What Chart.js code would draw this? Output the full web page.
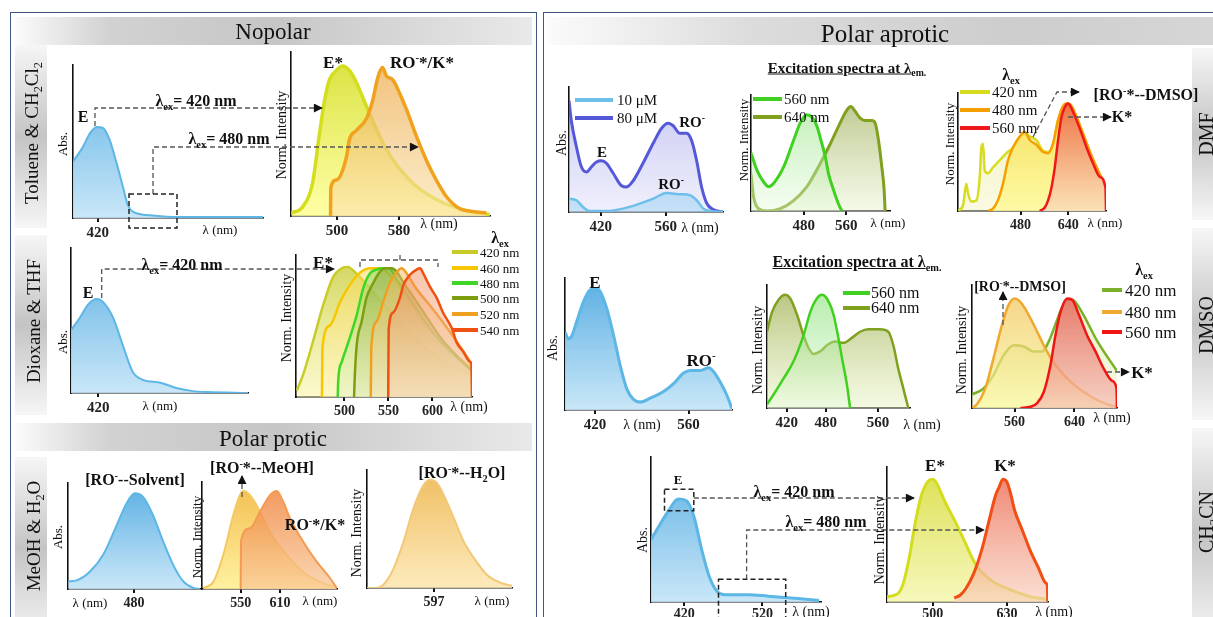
<!DOCTYPE html>
<html><head><meta charset="utf-8">
<script src="https://cdn.jsdelivr.net/npm/chart.js@4.4.1/dist/chart.umd.min.js"></script>
<style>
body{margin:0;background:#fff;}
#stage{position:relative;width:1213px;height:617px;overflow:hidden;background:#fff;font-family:'Liberation Serif','Times New Roman',serif;color:#111;}
.t{position:absolute;white-space:nowrap;line-height:1;transform:translate(-50%,-50%);}
.r{transform:translate(-50%,-50%) rotate(-90deg);}
.l{transform:translate(0,-50%);}
sub{font-size:0.65em;vertical-align:-0.35em;line-height:0;}
sup{font-size:0.65em;vertical-align:0.55em;line-height:0;}
canvas{position:absolute;}
svg{position:absolute;left:0;top:0;}
</style></head>
<body><div id="stage"></div>
<script>
// ---------------- DATA ----------------
// Nonpolar: Toluene & CH2Cl2
const tolAbsNm  = [385,399,409,419,427.5,437,447,456,463,470,494,518,565,655];
const tolAbsVal = [0.62,0.78,0.93,1.0,0.99,0.86,0.60,0.34,0.14,0.07,0.03,0.015,0.01,0.01];
const tolAbsTicks = [420];
const tolEmENm  = [441,455.5,468.4,477.4,483.9,490.3,499.3,507,516,525,538,564,593.5,628,671,697];
const tolEmEVal = [0.02,0.06,0.22,0.55,0.77,0.91,0.97,1.0,0.97,0.89,0.73,0.44,0.24,0.11,0.03,0.01];
const tolEmKNm  = [491.6,492,499.3,512,516,525,538,546,551,555,558.7,564,571.6,580.6,589.6,602.5,615.4,628,641,658,674.8,692.8];
const tolEmKVal = [0,0.19,0.24,0.39,0.51,0.57,0.65,0.77,0.89,0.96,0.99,0.93,0.91,0.82,0.71,0.53,0.37,0.24,0.13,0.05,0.03,0.02];
const tolEmTicks = [500,580];
// Dioxane & THF
const dioxAbsNm  = [380,393,405,418,427,442,456,471,486,511,536,559,581,640];
const dioxAbsVal = [0.67,0.80,0.94,1.0,0.97,0.80,0.51,0.22,0.14,0.11,0.05,0.02,0.01,0];
const dioxAbsTicks = [420];
const dioxEx = ['420 nm','460 nm','480 nm','500 nm','520 nm','540 nm'];
const dioxEm420Nm = [446,453,464,476,487,497,504,512,518,540,560,580,600,620,645];
const dioxEm420Val= [0.05,0.17,0.42,0.71,0.92,0.99,1.0,0.96,0.92,0.75,0.6,0.45,0.33,0.25,0.17];
const dioxEm460Nm = [474.5,475,483.6,495,506,515,523,532.5,540,550,570,590,610,630,645];
const dioxEm460Val= [0,0.38,0.55,0.73,0.86,0.94,0.98,0.99,0.99,0.95,0.78,0.58,0.42,0.3,0.22];
const dioxEm480Nm = [492.4,493,497,504.4,514,521.5,529,536.7,544,550,560,580,600,620,645];
const dioxEm480Val= [0,0.13,0.27,0.42,0.63,0.84,0.95,0.98,0.99,0.99,0.9,0.7,0.5,0.35,0.2];
const dioxEm500Nm = [511,511.5,514,519.6,525,533,540,546,553.7,570,590,610,630,645];
const dioxEm500Val= [0,0.11,0.40,0.58,0.76,0.88,0.96,0.99,0.99,0.85,0.65,0.45,0.3,0.2];
const dioxEm520Nm = [530,530.5,536.7,544,551.8,559.4,565,570.8,580,600,620,645];
const dioxEm520Val= [0,0.38,0.58,0.73,0.88,0.96,0.99,0.95,0.85,0.68,0.5,0.25];
const dioxEm540Nm = [549.8,550.3,555.5,563,567,574.5,582,586,589.6,597,605,612,622,627.5,635,642.7,644.3,645];
const dioxEm540Val= [0,0.52,0.65,0.76,0.86,0.94,0.98,0.99,0.95,0.85,0.76,0.65,0.53,0.42,0.35,0.27,0.25,0];
const dioxEmTicks = [500,550,600];
// Polar protic: MeOH & H2O
const meohAbsNm  = [380.5,393,413,433.5,454,469,481.5,494,509,524,539.5,554.7,570,580];
const meohAbsVal = [0.08,0.09,0.18,0.36,0.67,0.90,1.0,0.96,0.77,0.50,0.25,0.08,0.01,0];
const meohAbsTicks = [480];
const meohEm1Nm  = [493,508,523.5,539,549,554,564,579.6,595,620,650,680,696];
const meohEm1Val = [0.01,0.07,0.35,0.76,0.96,1.0,0.96,0.79,0.58,0.35,0.15,0.05,0.02];
const meohEm2Nm  = [550,550.5,564,579.6,595,605,615,625.4,645.7,666,686.5,696.7];
const meohEm2Val = [0,0.49,0.62,0.79,0.96,1.0,0.89,0.72,0.48,0.28,0.11,0.01];
const meohEmTicks = [550,610];
const h2oEmNm  = [500,514.5,533.8,553,567.5,582,591.7,601.4,611,625.5,640,654.5,674,693,710];
const h2oEmVal = [0,0,0.12,0.43,0.74,0.95,1.0,0.97,0.86,0.65,0.43,0.28,0.12,0.05,0.02];
const h2oEmTicks = [597];
// Polar aprotic: DMF
const dmfConc = ['10 μM','80 μM'];
const dmfAbs80Nm  = [352,357,368,378.7,389.5,400,411,422,432.5,447,465,475.6,490,511,533,551,565,576,590,605,615.7,626.4,637,648,662,683.7];
const dmfAbs80Val = [0.89,0.73,0.52,0.36,0.32,0.36,0.40,0.41,0.39,0.31,0.21,0.20,0.25,0.39,0.55,0.67,0.71,0.69,0.63,0.63,0.57,0.41,0.20,0.07,0.02,0];
const dmfAbs10Nm  = [352,368,382,396.6,432.5,468,504,533,561.7,590,612,626.4,640.6,655,683];
const dmfAbs10Val = [0.107,0.094,0.04,0.008,0.008,0.027,0.067,0.107,0.152,0.142,0.134,0.094,0.027,0.008,0];
const dmfAbsTicks = [420,560];
const excEm = ['560 nm','640 nm'];
const dmfExc560Nm  = [381,392.3,404.8,414.2,423.6,442.3,461,473.5,486,495.4,504.8,514.1,520.4,526.6,536,545.3,551.6];
const dmfExc560Val = [0.50,0.35,0.25,0.21,0.24,0.38,0.61,0.76,0.83,0.81,0.73,0.58,0.47,0.32,0.18,0.06,0];
const dmfExc640Nm  = [381,385.9,395.3,411,436,461,486,511,530,548.4,561,568.5,576.5,586,595.3,607.8,614,620.4,626.6,631,632.8];
const dmfExc640Val = [0.32,0.12,0.02,0,0.02,0.09,0.21,0.41,0.58,0.76,0.87,0.90,0.86,0.80,0.78,0.78,0.76,0.61,0.38,0.18,0];
const dmfExcTicks = [480,560];
const apEx = ['420 nm','480 nm','560 nm'];
const dmfEm420Nm  = [270,287,298,303.6,315,332,343,348.6,354,360,371,387.6,410,432.7,455,477,494,511.7,533.5,555.7,572.5,589,606,623,634,651,680,720,767];
const dmfEm420Val = [0,0.05,0.23,0.15,0.08,0.09,0.29,0.54,0.57,0.34,0.32,0.37,0.43,0.49,0.54,0.63,0.66,0.63,0.60,0.51,0.50,0.57,0.77,0.88,0.91,0.89,0.72,0.45,0.2];
const dmfEm480Nm  = [371,387.6,404,421,438,455,477,494,511.7,533.5,555.7,572.5,589,606,623,634,651,680,720,767];
const dmfEm480Val = [0,0.02,0.09,0.23,0.43,0.54,0.63,0.67,0.60,0.56,0.50,0.49,0.57,0.77,0.89,0.91,0.89,0.72,0.46,0.2];
const dmfEm560Nm  = [544.6,561.4,572.5,584,595,606,617.7,628.9,640,651,668,684.7,701.5,724,746,765.5,767];
const dmfEm560Val = [0,0.03,0.09,0.20,0.37,0.60,0.80,0.88,0.91,0.87,0.77,0.66,0.54,0.40,0.29,0.19,0];
const dmfEmTicks = [480,640];
// DMSO
const dmsoAbsNm  = [375,380,385,392.5,402.5,412.5,420,427.5,437.5,447.5,457.5,467.5,477.5,487.5,502.5,522.5,537.5,552.5,562.5,577.5,590,597.5,607.5,617.5,625];
const dmsoAbsVal = [0.59,0.54,0.56,0.67,0.82,0.91,0.92,0.90,0.77,0.57,0.34,0.16,0.08,0.06,0.09,0.14,0.20,0.28,0.30,0.30,0.32,0.29,0.21,0.11,0.01];
const dmsoAbsTicks = [420,560];
const dmsoExc640Nm  = [389.6,397.3,407.4,417.6,425.3,435.6,445.7,453.3,461,471.3,481.5,494.2,507,519.8,532.6,545.3,563.2,575.9,583.6,591.2,598.9,606.6];
const dmsoExc640Val = [0.62,0.78,0.88,0.92,0.89,0.76,0.59,0.49,0.44,0.46,0.51,0.54,0.53,0.57,0.62,0.64,0.64,0.62,0.51,0.32,0.16,0];
const dmsoExc560Nm  = [389.6,399.8,415.1,430.4,445.7,456,466.2,473.9,481.5,491.7,498.5,504.6,512.3,517.2];
const dmsoExc560Val = [0.03,0.11,0.24,0.38,0.59,0.78,0.89,0.92,0.89,0.76,0.59,0.41,0.19,0];
const dmsoExcTicks = [420,480,560];
const dmsoEm420Nm  = [503,518.6,532,545.4,558.8,572.2,585.6,596.8,605.6,614.6,623.6,630.3,637,650,670,697];
const dmsoEm420Val = [0.11,0.16,0.27,0.43,0.51,0.50,0.46,0.46,0.54,0.68,0.82,0.88,0.88,0.78,0.55,0.3];
const dmsoEm480Nm  = [503,509.7,520.8,532,543.3,552.1,560.1,567.8,576.7,587.8,599,608,625.7,652.5,679.3,697];
const dmsoEm480Val = [0,0.03,0.16,0.41,0.68,0.84,0.89,0.86,0.78,0.65,0.51,0.41,0.27,0.13,0.04,0.01];
const dmsoEm560Nm  = [567.8,581.2,590.2,599,608,614.6,621.4,630.3,637,645.9,657.1,668.2,679.3,690.5,696.3,697];
const dmsoEm560Val = [0,0.01,0.04,0.13,0.35,0.59,0.78,0.89,0.88,0.76,0.59,0.46,0.32,0.22,0.16,0];
const dmsoEmTicks = [560,640];
// CH3CN
const mecnAbsNm  = [377.4,387.4,399.9,412.4,422.4,432.4,442.4,452.4,462.4,472.4,502.4,527.4,552.4,572.4,592.4];
const mecnAbsVal = [0.43,0.52,0.63,0.71,0.70,0.59,0.36,0.17,0.07,0.05,0.05,0.04,0.03,0.02,0.01];
const mecnAbsTicks = [420,520];
const mecnEmENm  = [420,438.5,448.7,459,469.2,479.5,493.2,500,507,520.6,537.7,554.7,575.2,602.5,636.7,670.9,701.7];
const mecnEmEVal = [0.04,0.06,0.14,0.33,0.58,0.78,0.90,0.91,0.88,0.75,0.61,0.46,0.28,0.16,0.09,0.04,0.02];
const mecnEmKNm  = [537.7,548,558.2,571.8,585.5,599.2,609.4,616.2,623,630,636.7,643.5,657.2,670.9,684.5,698.2,700.8,701.7];
const mecnEmKVal = [0.03,0.05,0.10,0.21,0.38,0.61,0.78,0.85,0.91,0.89,0.80,0.68,0.53,0.38,0.26,0.14,0.12,0];
const mecnEmTicks = [500,630];

// ---------------- HELPERS ----------------
const SERIF = "'Liberation Serif','Times New Roman',serif";
const stage = document.getElementById('stage');
function div(css, html){const d=document.createElement('div');d.style.cssText=css;if(html)d.innerHTML=html;stage.appendChild(d);return d;}
function grad(top,bot){return (c)=>{const a=c.chart.chartArea;if(!a)return top;const g=c.chart.ctx.createLinearGradient(0,a.top,0,a.bottom);g.addColorStop(0,top);g.addColorStop(1,bot);return g;};}
function ds(xs,ys,line,top,bot,w){return {data:xs.map((x,i)=>({x:x,y:ys[i]})),borderColor:line,borderWidth:w||2.5,fill:'origin',backgroundColor:grad(top,bot),pointRadius:0,cubicInterpolationMode:'monotone'};}
function chart(box,xr,ymax,ticks,sets,tickSize,tickPad){
  const pad=10,bh=30;
  const x0=Math.round(box[0]),x1=Math.round(box[1]),yt=Math.round(box[2]),yb=Math.round(box[3]);
  const W=x1-x0+2*pad,H=yb-yt+pad+bh;
  const cv=document.createElement('canvas');
  cv.width=W;cv.height=H;
  cv.style.left=(x0-pad)+'px';cv.style.top=(yt-pad)+'px';cv.style.width=W+'px';cv.style.height=H+'px';
  stage.appendChild(cv);
  sets.forEach((s,i)=>{s.order=sets.length-i;});
  new Chart(cv,{type:'line',data:{datasets:sets},options:{
    responsive:false,animation:false,devicePixelRatio:1,
    layout:{padding:{left:pad,right:pad,top:pad,bottom:0}},
    plugins:{legend:{display:false},tooltip:{enabled:false}},
    scales:{
      x:{type:'linear',min:xr[0],max:xr[1],
        afterFit:(s)=>{s.height=bh;},
        afterBuildTicks:(s)=>{s.ticks=ticks.map(v=>({value:v}));},
        grid:{display:true,drawOnChartArea:false,drawTicks:true,tickLength:4,color:'#111',lineWidth:2},
        border:{display:true,color:'#111',width:1.6},
        ticks:{autoSkip:false,maxRotation:0,padding:(tickPad===undefined?2:tickPad),color:'#222',font:{family:SERIF,size:tickSize||15,weight:'bold'},callback:(v)=>String(v)}},
      y:{min:0,max:ymax,afterFit:(s)=>{s.width=0;},grid:{display:false},border:{display:true,color:'#111',width:1.6},ticks:{display:false}}
    }}});
}
function T(x,y,html,size,bold,rot){div(`left:${x}px;top:${y}px;font-size:${size}px;font-weight:${bold?'bold':'normal'};`,html).className='t'+(rot?' r':'');}
function TL(x,y,html,size){div(`left:${x}px;top:${y}px;font-size:${size}px;`,html).className='t l';}

// ---------------- BACKGROUND ----------------
div('position:absolute;left:10px;top:12px;width:525px;height:640px;border:1.5px solid #3f5682;');
div('position:absolute;left:543px;top:12px;width:700px;height:640px;border:1.5px solid #3f5682;');
const hgL='linear-gradient(to right,#fbfbfb 0%,#d2d2d2 18%,#c6c6c6 50%,#e9e9e9 100%)';
div(`position:absolute;left:15px;top:17px;width:517px;height:28px;background:${hgL};`);
div(`position:absolute;left:15px;top:423px;width:517px;height:28px;background:${hgL};`);
div('position:absolute;left:548px;top:17px;width:665px;height:28px;background:linear-gradient(to right,#fbfbfb 0%,#dcdcdc 30%,#cdcdcd 70%,#d6d6d6 100%);');
const vg='linear-gradient(to bottom,#f6f6f6 0%,#c4c4c4 50%,#f6f6f6 100%)';
[[45,228],[235,415],[457,640]].forEach(b=>div(`position:absolute;left:15px;top:${b[0]}px;width:32px;height:${b[1]-b[0]}px;background:${vg};`));
[[48,220],[228,420],[428,640]].forEach(b=>div(`position:absolute;left:1192px;top:${b[0]}px;width:21px;height:${b[1]-b[0]}px;background:${vg};`));

// ---------------- CHARTS ----------------
const ABS=['#5cb6e6','rgba(80,170,225,0.95)','rgba(195,228,247,0.9)'];
chart([73,263,65,218],[385,655],1.68,tolAbsTicks,[ds(tolAbsNm,tolAbsVal,...ABS,2)]);
chart([291,490,52,216],[440.6,697.4],1.093,tolEmTicks,[
  ds(tolEmENm,tolEmEVal,'#d4de1e','rgba(212,222,40,0.9)','rgba(255,255,150,0.85)',3.5),
  ds(tolEmKNm,tolEmKVal,'#f0a21e','rgba(236,168,72,0.75)','rgba(250,226,172,0.65)',3.5)]);
chart([71,248,248,393],[380,640],1.543,dioxAbsTicks,[ds(dioxAbsNm,dioxAbsVal,...ABS,2)]);
chart([296,472,255,397],[445,645],1.092,dioxEmTicks,[
  ds(dioxEm420Nm,dioxEm420Val,'#c8cc28','rgba(200,205,60,0.85)','rgba(250,245,170,0.6)'),
  ds(dioxEm460Nm,dioxEm460Val,'#f7c600','rgba(250,215,80,0.55)','rgba(255,245,190,0.5)'),
  ds(dioxEm480Nm,dioxEm480Val,'#3fd626','rgba(120,210,80,0.5)','rgba(225,245,200,0.45)'),
  ds(dioxEm500Nm,dioxEm500Val,'#7e9e12','rgba(130,160,40,0.55)','rgba(220,230,180,0.45)'),
  ds(dioxEm520Nm,dioxEm520Val,'#f0a020','rgba(240,175,80,0.5)','rgba(250,225,180,0.45)'),
  ds(dioxEm540Nm,dioxEm540Val,'#f05012','rgba(240,130,80,0.5)','rgba(250,210,180,0.45)')],14);
chart([68,200,483,589],[380,580],1.108,meohAbsTicks,[ds(meohAbsNm,meohAbsVal,...ABS,2)],14);
chart([202,337,482,589],[491,697],1.092,meohEmTicks,[
  ds(meohEm1Nm,meohEm1Val,'#f5c860','rgba(242,185,70,0.95)','rgba(255,240,150,0.9)',2),
  ds(meohEm2Nm,meohEm2Val,'#f59a50','rgba(240,130,60,0.85)','rgba(248,200,150,0.75)',2)],14);
chart([367,512,470,588],[500,710],1.09,h2oEmTicks,[ds(h2oEmNm,h2oEmVal,'#f2c878','rgba(238,185,85,0.95)','rgba(252,230,175,0.85)',2)],14);
chart([569,723,87,212],[352,683],1,dmfAbsTicks,[
  ds(dmfAbs80Nm,dmfAbs80Val,'#5558d8','rgba(150,150,230,0.55)','rgba(225,225,250,0.5)',3),
  ds(dmfAbs10Nm,dmfAbs10Val,'#6ec0ea','rgba(110,190,235,0.7)','rgba(170,215,245,0.6)',2.5)]);
chart([751,890,95,211],[381,642],1,dmfExcTicks,[
  ds(dmfExc640Nm,dmfExc640Val,'#80a020','rgba(140,160,60,0.6)','rgba(235,245,210,0.5)',3),
  ds(dmfExc560Nm,dmfExc560Val,'#40d020','rgba(120,220,100,0.5)','rgba(230,250,220,0.4)',3)]);
chart([958,1106,93,211],[270,767],1,dmfEmTicks,[
  ds(dmfEm420Nm,dmfEm420Val,'#d8dc20','rgba(225,230,120,0.55)','rgba(245,245,200,0.5)',2.5),
  ds(dmfEm480Nm,dmfEm480Val,'#f5a000','rgba(245,215,60,0.8)','rgba(255,250,150,0.8)',2.5),
  ds(dmfEm560Nm,dmfEm560Val,'#f01818','rgba(235,80,50,0.85)','rgba(250,215,190,0.7)',2.5)],14);
chart([565,732,278,410],[375,625],1,dmsoAbsTicks,[ds(dmsoAbsNm,dmsoAbsVal,'#5cb6e6','rgba(80,170,225,0.95)','rgba(195,228,247,0.9)',3)]);
chart([767,910,285,408],[389.6,609.2],1,dmsoExcTicks,[
  ds(dmsoExc640Nm,dmsoExc640Val,'#80a020','rgba(140,160,50,0.65)','rgba(235,245,200,0.5)',2.5),
  ds(dmsoExc560Nm,dmsoExc560Val,'#40d020','rgba(110,220,90,0.55)','rgba(230,250,220,0.4)',2.5)]);
chart([972,1117,285,408],[503,697],1,dmsoEmTicks,[
  ds(dmsoEm420Nm,dmsoEm420Val,'#7ab02a','rgba(200,225,140,0.5)','rgba(240,245,200,0.5)',2.5),
  ds(dmsoEm480Nm,dmsoEm480Val,'#f0a830','rgba(240,190,80,0.7)','rgba(250,250,160,0.7)',2.5),
  ds(dmsoEm560Nm,dmsoEm560Val,'#f01515','rgba(230,80,70,0.8)','rgba(245,190,180,0.7)',2.5)],14);
chart([651,821,457,602],[377.5,595],1,mecnAbsTicks,[ds(mecnAbsNm,mecnAbsVal,'#5cb6e6','rgba(80,170,225,0.95)','rgba(195,228,247,0.9)',3)],14,0);
chart([887,1048,467,602],[420,702],1,mecnEmTicks,[
  ds(mecnEmENm,mecnEmEVal,'#d4dc1e','rgba(215,220,60,0.9)','rgba(245,245,170,0.8)',3),
  ds(mecnEmKNm,mecnEmKVal,'#f04e14','rgba(235,95,70,0.8)','rgba(248,205,185,0.65)',3)],14,0);

// ---------------- ANNOTATION LINES ----------------
const dash='fill="none" stroke="#555" stroke-width="1.3" stroke-dasharray="5 3"';
function pl(pts,arrow){return `<polyline points="${pts}" ${dash} ${arrow?'marker-end="url(#ah)"':''}/>`;}
function rc(x,y,w,h){return `<rect x="${x}" y="${y}" width="${w}" height="${h}" fill="none" stroke="#222" stroke-width="1.5" stroke-dasharray="5 3"/>`;}
function ln(x1,x2,y,c){return `<line x1="${x1}" y1="${y}" x2="${x2}" y2="${y}" stroke="${c}" stroke-width="4"/>`;}
let svg=`<svg width="1213" height="617" xmlns="http://www.w3.org/2000/svg"><defs><marker id="ah" viewBox="0 0 10 10" refX="9" refY="5" markerWidth="10" markerHeight="9" markerUnits="userSpaceOnUse" orient="auto"><path d="M0,0 L10,5 L0,10 z" fill="#111"/></marker></defs>`;
svg+=pl('95,126 95,108 322,108',1)+pl('153,194 153,147 418,147',1)+rc(129,194,48,34);
svg+=pl('101.7,298 101.7,269 334,269',1)+'<path d="M360,267 V260 H438 V267 M400,260 V252" '+dash+'/>';
svg+=pl('242,497 242,476',1);
svg+=pl('1033,137 1057,92 1079,92',1)+pl('1068,117 1111,117',1);
svg+=pl('1003,325 1003,292',1)+pl('1107,372 1129,372',1);
svg+=rc(664.5,489.3,29.3,21.4)+pl('693.8,498 914,498',1)+rc(718.5,579.3,67.2,50)+pl('746.6,579.3 746.6,530 984,530',1);
// legend swatches
const dioxCols=['#c8cc28','#f7c600','#3fd626','#7e9e12','#f0a020','#f05012'];
[252,268,283,298,314,330].forEach((y,i)=>{svg+=ln(452,478,y,dioxCols[i]);});
svg+=ln(575,613,100,'#6ec0ea')+ln(575,613,118,'#5558d8');
svg+=ln(753,782,99,'#40d020')+ln(753,782,117,'#80a020');
svg+=ln(960,990,92,'#d8dc20')+ln(960,990,110,'#f5a000')+ln(960,990,128,'#f01818');
svg+=ln(843,870,293,'#40d020')+ln(843,870,308,'#80a020');
svg+=ln(1102,1122,290,'#7ab02a')+ln(1102,1122,312,'#f0a830')+ln(1102,1122,332,'#f01515');
svg+='</svg>';
stage.insertAdjacentHTML('beforeend',svg);

// ---------------- TEXT ----------------
const L='λ<sub>ex</sub>';
const RO='RO<sup>-</sup>';
T(273,31,'Nopolar',23);
T(31,133,'Toluene &amp; CH<sub>2</sub>Cl<sub>2</sub>',19,false,true);
T(62,144,'Abs.',13,false,true);
T(83,117,'E',16,true);
T(196,101,L+'= 420 nm',16,true);
T(229,139,L+'= 480 nm',16,true);
T(220,229,'λ (nm)',13);
T(282,135,'Norm. Intensity',14,false,true);
T(333,62,'E*',17,true);
T(422,62,RO+'*/K*',17,true);
T(439,224,'λ (nm)',14);
T(33,321,'Dioxane &amp; THF',19,false,true);
T(62,342,'Abs.',13,false,true);
T(88,293,'E',16,true);
T(182,265,L+'= 420 nm',16,true);
T(160,405,'λ (nm)',13);
T(287,318,'Norm. Intensity',14,false,true);
T(323,262,'E*',17,true);
T(469,407,'λ (nm)',14);
T(500,238,L,16,true);
[252,268,283,298,314,330].forEach((y,i)=>TL(480,y,dioxEx[i],13));
T(273,438,'Polar protic',23);
T(33,536,'MeOH &amp; H<sub>2</sub>O',19,false,true);
T(135,480,'['+RO+'--Solvent]',16,true);
T(57,537,'Abs.',13,false,true);
T(90,602,'λ (nm)',13);
T(262,468,'['+RO+'*--MeOH]',16,true);
T(315,525,RO+'*/K*',16,true);
T(196,537,'Norm. Intensity',13,false,true);
T(320,600,'λ (nm)',13);
T(462,473,'['+RO+'*--H<sub>2</sub>O]',16,true);
T(357,533,'Norm. Intensity',14,false,true);
T(492,600,'λ (nm)',13);

T(885,33,'Polar aprotic',25);
TL(617,100,dmfConc[0],15);TL(617,118,dmfConc[1],15);
T(602,152,'E',15,true);T(692,122,RO,15,true);T(671,184,RO,15,true);
T(562,143,'Abs.',14,false,true);T(700,228,'λ (nm)',14);
T(847,68,'<u>Excitation spectra at λ<sub>em.</sub></u>',15,true);
TL(784,99,excEm[0],15);TL(784,117,excEm[1],15);
T(743,140,'Norm. Intensity',13,false,true);T(888,222,'λ (nm)',13);
T(1011,75,L,16,true);
[92,110,128].forEach((y,i)=>TL(992,y,apEx[i],15));
T(949,144,'Norm. Intensity',13,false,true);
T(1146,95,'['+RO+'*--DMSO]',16,true);
T(1122,117,'K*',16,true);
T(1105,222,'λ (nm)',13);
T(1206,134,'DMF',20,false,true);
T(595,282,'E',17,true);T(701,360,RO,17,true);
T(553,348,'Abs.',14,false,true);T(642,425,'λ (nm)',14);
T(857,262,'<u>Excitation spectra at λ<sub>em.</sub></u>',16,true);
TL(871,293,excEm[0],16);TL(871,308,excEm[1],16);
T(758,350,'Norm. Intensity',14,false,true);T(922,425,'λ (nm)',14);
T(1144,270,L,16,true);
[290,312,332].forEach((y,i)=>TL(1125,y,apEx[i],17));
T(1020,287,'['+RO+'*--DMSO]',14,true);
T(1142,372,'K*',17,true);
T(962,350,'Norm. Intensity',14,false,true);T(1112,418,'λ (nm)',14);
T(1206,325,'DMSO',20,false,true);
T(678,479,'E',13,true);
T(794,492,L+'= 420 nm',16,true);
T(826,522,L+'= 480 nm',16,true);
T(643,540,'Abs.',14,false,true);T(811,612,'λ (nm)',14);
T(935,465,'E*',17,true);T(1005,465,'K*',17,true);
T(880,540,'Norm. Intensity',14,false,true);T(1054,612,'λ (nm)',14);
T(1206,522,'CH<sub>3</sub>CN',20,false,true);
</script></body></html>
